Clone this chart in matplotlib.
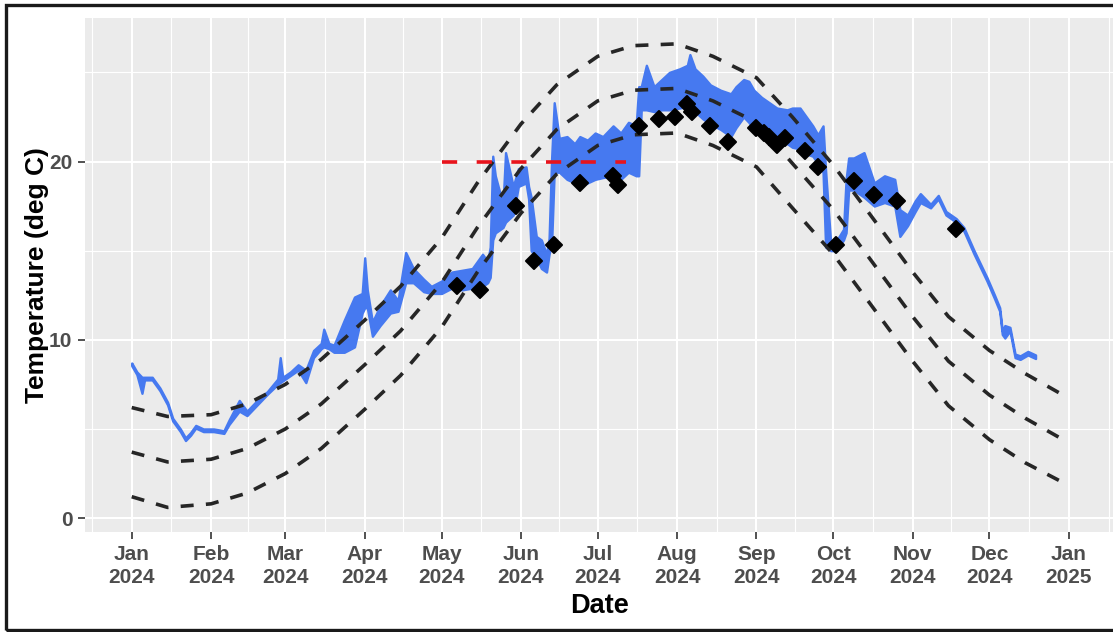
import numpy as np
import matplotlib
matplotlib.use("Agg")
import matplotlib.pyplot as plt
import matplotlib.dates as mdates
from matplotlib.patches import Rectangle
from matplotlib.markers import MarkerStyle

plt.rcParams['font.family'] = ['Liberation Sans', 'DejaVu Sans']

start = np.datetime64('2024-01-01')

# logger record, read every few days as the low / high of the daily swing
temp_day = [0, 2, 4, 5, 8, 11, 14, 16, 19, 21, 23, 25, 28, 32, 36, 38, 42, 45, 49, 53,
            57, 58, 59, 62, 65, 68, 71, 74, 75, 77, 79, 83, 87, 90, 91, 92, 94, 97, 101, 104,
            107, 110, 114, 117, 121, 125, 129, 133, 137, 139, 140, 141, 142, 145, 146, 149, 151, 154, 155, 156,
            158, 160, 162, 163, 164, 165, 167, 170, 173, 175, 178, 181, 184, 188, 191, 194, 197, 198, 199, 201,
            204, 207, 210, 214, 217, 218, 220, 223, 226, 230, 234, 236, 239, 241, 243, 246, 249, 252, 256, 258,
            261, 264, 266, 268, 270, 271, 273, 275, 278, 279, 280, 282, 286, 290, 294, 298, 300, 303, 306, 308,
            312, 315, 318, 322, 325, 329, 331, 334, 337, 339, 340, 341, 343, 345, 347, 350, 353]
temp_lo = [8.55, 8.05, 7.0, 7.75, 7.75, 7.15, 6.35, 5.45, 4.85, 4.35, 4.65, 5.05, 4.85, 4.85, 4.75, 5.25, 6.0, 5.75, 6.35, 6.95,
           7.5, 7.6, 7.7, 8.0, 8.3, 7.6, 9.0, 9.5, 9.6, 9.5, 9.3, 9.3, 9.6, 11.5, 11.8, 11.8, 10.2, 10.8, 11.5, 11.6,
           13.2, 13.2, 12.7, 12.6, 12.6, 12.9, 12.8, 12.9, 13.0, 13.2, 13.5, 15.6, 16.0, 16.3, 16.6, 17.0, 18.6, 18.8, 17.9, 15.0,
           14.6, 14.0, 13.8, 14.8, 15.4, 19.4, 19.4, 19.0, 18.8, 18.6, 18.8, 19.0, 19.1, 19.2, 19.0, 19.4, 19.2, 19.2, 22.9, 22.9,
           22.8, 22.9, 22.9, 23.0, 23.1, 23.2, 22.8, 22.4, 22.1, 21.8, 21.4, 21.9, 22.5, 22.2, 21.8, 21.5, 21.2, 21.0, 21.0, 20.8,
           20.7, 20.4, 20.3, 19.9, 19.4, 15.2, 15.0, 15.0, 15.6, 16.0, 18.4, 18.4, 18.0, 17.5, 17.7, 17.5, 15.8, 16.4, 17.2, 17.7,
           17.4, 17.9, 17.0, 16.6, 16.1, 14.8, 14.2, 13.3, 12.3, 11.6, 10.3, 10.1, 10.5, 9.0, 8.9, 9.15, 8.95]
temp_hi = [8.7, 8.2, 7.9, 7.9, 7.9, 7.3, 6.5, 5.6, 5.0, 4.5, 4.8, 5.2, 5.0, 5.0, 4.9, 5.5, 6.6, 6.0, 6.6, 7.1,
           7.8, 9.0, 7.9, 8.2, 8.6, 8.3, 9.4, 9.8, 10.6, 9.8, 9.7, 11.1, 12.4, 12.6, 14.6, 12.8, 11.0, 11.9, 12.8, 12.2,
           14.9, 14.0, 13.4, 13.0, 13.3, 13.8, 13.9, 14.0, 14.8, 14.4, 15.2, 20.3, 19.2, 17.6, 20.5, 18.6, 19.6, 19.7, 18.6, 18.0,
           15.8, 15.6, 14.8, 15.7, 20.2, 23.3, 21.3, 21.4, 21.0, 21.4, 21.2, 21.6, 21.4, 22.0, 21.6, 22.2, 22.0, 24.2, 24.2, 25.4,
           24.2, 24.6, 25.0, 25.2, 25.4, 26.0, 25.2, 24.8, 24.3, 24.0, 23.8, 24.2, 24.6, 24.5, 24.0, 23.6, 23.3, 23.0, 22.9, 23.0,
           23.0, 22.4, 22.0, 21.5, 22.0, 19.5, 15.4, 15.5, 16.2, 19.0, 20.2, 20.2, 20.5, 18.8, 19.2, 19.0, 17.3, 17.0, 17.8, 18.2,
           17.6, 18.1, 17.2, 16.8, 16.3, 15.0, 14.4, 13.5, 12.5, 11.8, 10.5, 10.8, 10.7, 9.2, 9.1, 9.35, 9.15]

# seasonal reference curves (upper / middle / lower)
curve_dates = ['2024-01-01', '2024-01-15', '2024-02-01', '2024-02-15', '2024-03-01', '2024-03-15',
               '2024-04-01', '2024-04-15', '2024-05-01', '2024-05-15', '2024-06-01', '2024-06-15',
               '2024-07-01', '2024-07-15', '2024-08-01', '2024-08-15', '2024-09-01', '2024-09-15',
               '2024-10-01', '2024-10-15', '2024-11-01', '2024-11-15', '2024-12-01', '2024-12-15', '2024-12-31']
curve_upper = [6.2, 5.7, 5.8, 6.4, 7.5, 8.9, 11.1, 13.0, 15.7, 18.8, 22.1, 24.3, 25.9, 26.5, 26.6, 25.9,
               24.7, 22.5, 19.8, 17.1, 13.8, 11.3, 9.4, 8.1, 6.8]
curve_mid = [3.7, 3.15, 3.3, 3.9, 5.0, 6.4, 8.6, 10.5, 13.2, 16.3, 19.6, 21.8, 23.4, 24.0, 24.1, 23.4,
             22.2, 19.9, 17.3, 14.6, 11.3, 8.8, 6.9, 5.6, 4.3]
curve_lower = [1.2, 0.6, 0.8, 1.4, 2.5, 3.9, 6.1, 8.0, 10.7, 13.8, 17.1, 19.3, 20.9, 21.5, 21.6, 20.9,
               19.7, 17.4, 14.8, 12.1, 8.8, 6.3, 4.4, 3.1, 1.9]

# threshold
thresh_dates = ['2024-05-01', '2024-07-12']
thresh_val = [20, 20]

# spot measurements
obs_dates = ['2024-05-07', '2024-05-16', '2024-05-30', '2024-06-06', '2024-06-14', '2024-06-24',
             '2024-07-07', '2024-07-09', '2024-07-17', '2024-07-25', '2024-07-31', '2024-08-05',
             '2024-08-07', '2024-08-14', '2024-08-21', '2024-09-01', '2024-09-04', '2024-09-06',
             '2024-09-09', '2024-09-12', '2024-09-20', '2024-09-25', '2024-10-02', '2024-10-09',
             '2024-10-17', '2024-10-26', '2024-11-18']
obs_temp = [13.0, 12.8, 17.5, 14.4, 15.3, 18.8, 19.2, 18.7, 22.0, 22.4, 22.5, 23.2, 22.8, 22.0, 21.1,
            21.9, 21.6, 21.4, 20.95, 21.3, 20.6, 19.7, 15.3, 18.9, 18.1, 17.8, 16.2]

temp_x = start + np.array(temp_day).astype('timedelta64[D]')
cx = np.array(curve_dates, dtype='datetime64[D]')
tx = np.array(thresh_dates, dtype='datetime64[D]')
ox = np.array(obs_dates, dtype='datetime64[D]')

fig = plt.figure(figsize=(11.13, 6.32), dpi=100)
ax = fig.add_axes([85 / 1113, 100 / 632, 1028 / 1113, 514 / 632])
ax.set_facecolor('#ebebeb')

blue = '#4679f0'
ax.fill_between(temp_x, temp_lo, temp_hi, color=blue, ec=blue, lw=1.7, zorder=3)

for yy in (curve_upper, curve_mid, curve_lower):
    ax.plot(cx, yy, color='#262626', lw=2.6, dashes=(3.6, 3.4), zorder=4)
ax.plot(tx, thresh_val, color='#e8141c', lw=2.6, dashes=(4.2, 5.4), zorder=4)
ax.plot(ox, obs_temp, linestyle='none', marker=MarkerStyle('D', joinstyle='round'),
        color='black', ms=8.5, mew=1.5, zorder=5)

x0 = mdates.date2num(start)
ax.set_xlim(x0 - 18.25, x0 + 383.25)
ax.set_ylim(-0.78, 28.05)

months = np.arange(np.datetime64('2023-12'), np.datetime64('2025-03'), dtype='datetime64[M]').astype('datetime64[D]')
mnum = mdates.date2num(months)
ax.set_xticks(mnum[1:-1])
ax.set_xticklabels([mdates.num2date(m).strftime('%b\n%Y') for m in mnum[1:-1]])
ax.set_xticks((mnum[:-1] + mnum[1:]) / 2, minor=True)
ax.set_yticks([0, 10, 20])
ax.set_yticks([5, 15, 25], minor=True)

ax.grid(which='major', color='white', lw=1.5)
ax.grid(which='minor', color='white', lw=0.8)
ax.set_axisbelow(True)
for s in ax.spines.values():
    s.set_visible(False)
ax.tick_params(which='major', length=5, width=1.2, color='#333333', labelsize=15,
               labelcolor='#4d4d4d', pad=4)
ax.tick_params(which='minor', length=0)
for lab in ax.get_xticklabels() + ax.get_yticklabels():
    lab.set_fontweight('bold')
for lab in ax.get_xticklabels():
    lab.set_linespacing(1.3)

ax.set_xlabel('Date', fontsize=19.5, fontweight='bold', labelpad=4)
ax.set_ylabel('Temperature (deg C)', fontsize=19, fontweight='bold', labelpad=0)

fig.patches.append(Rectangle((6 / 1113, 2 / 632), 1.2, 625 / 632, transform=fig.transFigure,
                             fill=False, lw=2.4, ec='#1a1a1a'))

fig.savefig('out.png', dpi=100)
